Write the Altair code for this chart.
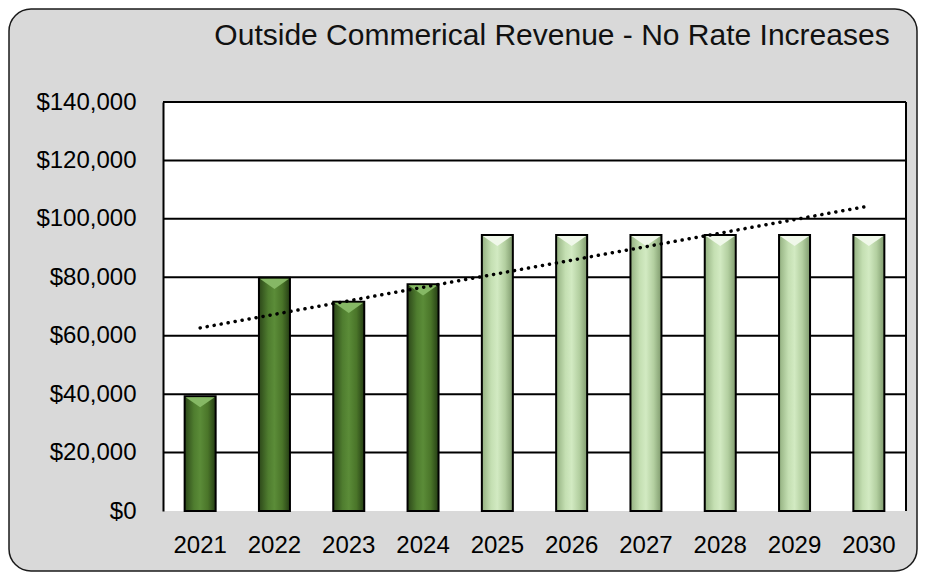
import altair as alt
import pandas as pd

years = [2021, 2022, 2023, 2024, 2025, 2026, 2027, 2028, 2029, 2030]
revenue = [39300, 79800, 71600, 77600, 94500, 94500, 94500, 94500, 94500, 94500]
actual_flag = [True, True, True, True, False, False, False, False, False, False]
y_ticks = [0, 20000, 40000, 60000, 80000, 100000, 120000, 140000]
title_text = "Outside Commerical Revenue - No Rate Increases"

W, H = 743, 409

df = pd.DataFrame({"Year": years, "Revenue": revenue, "Actual": actual_flag})
grid_df = pd.DataFrame({"v": y_ticks[1:]})
one = pd.DataFrame({"a": [0]})

x_axis = alt.Axis(labelAngle=0, zindex=1, grid=False, domain=False, ticks=False,
                  labelFont="Liberation Sans", labelFontSize=24, labelColor="black",
                  labelPadding=22)
y_axis = alt.Axis(values=y_ticks, format="$,.0f", zindex=1, grid=False, domain=True,
                  domainColor="black", domainWidth=2, ticks=False,
                  labelFont="Liberation Sans", labelFontSize=24, labelColor="black",
                  labelPadding=27)

x_enc = alt.X("Year:O", title=None,
              scale=alt.Scale(paddingInner=0, paddingOuter=0), axis=x_axis)
y_scale = alt.Scale(domain=[0, 140000], nice=False)


def y_enc(field):
    return alt.Y(field, scale=y_scale, title=None, axis=y_axis)


frame = alt.Chart(one).mark_rect(
    fill="#d9d9d9", stroke="#1a1a1a", strokeWidth=1.5, cornerRadius=22, clip=False
).encode(x=alt.value(-154), x2=alt.value(754), y=alt.value(-93), y2=alt.value(469))

plot_bg = alt.Chart(one).mark_rect(fill="white", clip=False).encode(
    x=alt.value(0), x2=alt.value(W), y=alt.value(0), y2=alt.value(H))

grid = alt.Chart(grid_df).mark_rule(color="black", strokeWidth=2).encode(y=y_enc("v:Q"))

right_border = alt.Chart(one).mark_rule(color="black", strokeWidth=2).encode(
    x=alt.value(W), y=alt.value(0), y2=alt.value(H))

dark_grad = alt.Gradient(gradient="linear", x1=0, x2=1, y1=0, y2=0, stops=[
    alt.GradientStop(color="#2c4719", offset=0),
    alt.GradientStop(color="#4f7d2f", offset=0.3),
    alt.GradientStop(color="#5b8c38", offset=0.5),
    alt.GradientStop(color="#4a7529", offset=0.75),
    alt.GradientStop(color="#253d14", offset=1)])
light_grad = alt.Gradient(gradient="linear", x1=0, x2=1, y1=0, y2=0, stops=[
    alt.GradientStop(color="#93b080", offset=0),
    alt.GradientStop(color="#c4dfb2", offset=0.3),
    alt.GradientStop(color="#d2eac2", offset=0.5),
    alt.GradientStop(color="#b3cfa0", offset=0.75),
    alt.GradientStop(color="#7f9a6d", offset=1)])

bars_dark = alt.Chart(df).transform_filter("datum.Actual").mark_bar(
    size=31, fill=dark_grad, stroke="black", strokeWidth=2
).encode(x=x_enc, y=y_enc("Revenue:Q"))

bars_light = alt.Chart(df).transform_filter("!datum.Actual").mark_bar(
    size=31, fill=light_grad, stroke="black", strokeWidth=2
).encode(x=x_enc, y=y_enc("Revenue:Q"))

tri_shape = "M -1 -1 L 1 -1 L 0 -0.3 Z"
tri_dark = alt.Chart(df).transform_filter("datum.Actual").mark_point(
    shape=tri_shape, size=841, filled=True, fill="#86b865", opacity=1, yOffset=15.5
).encode(x=x_enc, y=y_enc("Revenue:Q"))
tri_light = alt.Chart(df).transform_filter("!datum.Actual").mark_point(
    shape=tri_shape, size=841, filled=True, fill="#f0f8ea", opacity=1, yOffset=15.5
).encode(x=x_enc, y=y_enc("Revenue:Q"))

trend = alt.Chart(df).transform_regression("Year", "Revenue", method="linear").mark_line(
    color="black", strokeWidth=3.5, strokeDash=[0.1, 7], strokeCap="round"
).encode(x=x_enc, y=y_enc("Revenue:Q"))

title = alt.Chart(one).mark_text(
    text=title_text, font="Liberation Sans", fontSize=30,
    align="center", baseline="alphabetic", color="#111111"
).encode(x=alt.value(389), y=alt.value(-57))

chart = alt.layer(
    frame, plot_bg, grid, right_border, bars_dark, bars_light, tri_dark, tri_light, trend, title
).properties(width=W, height=H, padding=0).configure_view(stroke=None)

chart.save("out.html", embed_options={"renderer": "svg", "actions": False})
